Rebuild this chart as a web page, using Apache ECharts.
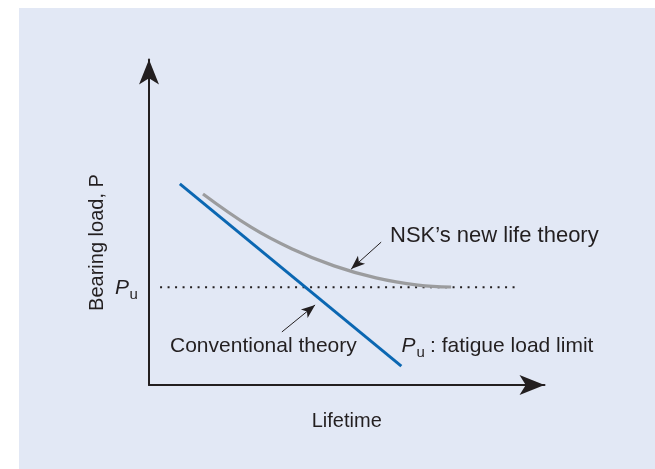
<!DOCTYPE html>
<html>
<head>
<meta charset="utf-8">
<title>Bearing load vs lifetime</title>
<script src="https://cdn.jsdelivr.net/npm/echarts@6/dist/echarts.min.js"></script>
<style>
  html, body { margin: 0; padding: 0; background: #ffffff; }
  #panel { position: absolute; left: 19px; top: 8px; right: 0; bottom: 0; background: #e2e8f5; }
  #chart { position: absolute; left: 0; top: 0; width: 655px; height: 469px; }
</style>
</head>
<body>
<div id="panel"></div>
<div id="chart"></div>
<script>
// Conventional theory: straight line in load-life space
const conventionalLine = [[7.8, 61.8], [63.8, 5.8]];
// NSK's new life theory: curve flattening toward the fatigue load limit
const nskCurve = [[13.65, 58.7], [25.8, 48.5], [36.2, 41.8], [46.8, 36.6], [57.4, 32.9], [68.0, 30.7], [76.4, 30.1]];
// Fatigue load limit Pu and the extent of its dotted guide
const fatigueLimit = 30;
const limitSpan = [2.8, 93.0];
// Pointer arrows: [from, to]
const nskPointer = [[58.7, 43.9], [51.1, 35.6]];
const conventionalPointer = [[33.6, 16.3], [42.0, 24.6]];
// Text
const xAxisTitle = 'Lifetime';
const yAxisTitle = 'Bearing load, P';
const nskText = 'NSK\u2019s new life theory';
const conventionalText = 'Conventional theory';
const limitText = ': fatigue load limit';

const FONT = "'Liberation Sans', Arial, Helvetica, sans-serif";
const INK = '#231f20';

const chart = echarts.init(document.getElementById('chart'), null, { renderer: 'canvas' });

function pointer(seg) {
  return {
    silent: true,
    symbol: ['none', 'arrow'],
    symbolSize: [8, 14],
    label: { show: false },
    lineStyle: { color: INK, width: 1, type: 'solid' },
    itemStyle: { color: INK },
    emphasis: { disabled: true },
    data: [[{ coord: seg[0] }, { coord: seg[1] }]]
  };
}

chart.setOption({
  backgroundColor: 'transparent',
  animation: false,
  grid: { left: 149, right: 110.5, top: 59.5, bottom: 84 },
  xAxis: {
    type: 'value', min: 0, max: 100,
    name: xAxisTitle, nameLocation: 'middle', nameGap: 26,
    nameTextStyle: { fontFamily: FONT, fontSize: 20, color: INK },
    axisLine: { show: true, symbol: ['none', 'arrow'], symbolSize: [15, 25], lineStyle: { color: INK, width: 2 } },
    axisTick: { show: false }, axisLabel: { show: false }, splitLine: { show: false }
  },
  yAxis: {
    type: 'value', min: 0, max: 100,
    axisLine: { show: true, symbol: ['none', 'arrow'], symbolSize: [15, 25], lineStyle: { color: INK, width: 2 } },
    axisTick: { show: false }, axisLabel: { show: false }, splitLine: { show: false }
  },
  series: [
    {
      name: 'Fatigue load limit', type: 'line', silent: true, symbol: 'none',
      data: [[limitSpan[0], fatigueLimit], [limitSpan[1], fatigueLimit]],
      lineStyle: { color: INK, width: 2, type: [2, 5.5] }, z: 1
    },
    {
      name: 'NSK\u2019s new life theory', type: 'line', silent: true, symbol: 'none',
      smooth: 0.4,
      data: nskCurve,
      lineStyle: { color: '#9b9c9e', width: 3.2, cap: 'butt' }, z: 2,
      markLine: pointer(nskPointer)
    },
    {
      name: 'Conventional theory', type: 'line', silent: true, symbol: 'none',
      data: conventionalLine,
      lineStyle: { color: '#0b67b2', width: 3 }, z: 3,
      markLine: pointer(conventionalPointer)
    }
  ],
  graphic: [
    { type: 'text', x: 97.5, y: 242.5, rotation: Math.PI / 2, silent: true,
      style: { text: yAxisTitle, font: '20px ' + FONT, fill: INK, align: 'center', verticalAlign: 'middle' } },
    { type: 'text', x: 115, y: 288.5, silent: true,
      style: { text: 'P', font: 'italic 21px ' + FONT, fill: INK, align: 'left', verticalAlign: 'middle' } },
    { type: 'text', x: 129.5, y: 295, silent: true,
      style: { text: 'u', font: '15px ' + FONT, fill: INK, align: 'left', verticalAlign: 'middle' } },
    { type: 'text', x: 390, y: 235.5, silent: true,
      style: { text: nskText, font: '22px ' + FONT, fill: INK, align: 'left', verticalAlign: 'middle' } },
    { type: 'text', x: 170, y: 346, silent: true,
      style: { text: conventionalText, font: '21px ' + FONT, fill: INK, align: 'left', verticalAlign: 'middle' } },
    { type: 'text', x: 401.5, y: 346, silent: true,
      style: { text: 'P', font: 'italic 21px ' + FONT, fill: INK, align: 'left', verticalAlign: 'middle' } },
    { type: 'text', x: 416.5, y: 352.5, silent: true,
      style: { text: 'u', font: '15px ' + FONT, fill: INK, align: 'left', verticalAlign: 'middle' } },
    { type: 'text', x: 430, y: 346, silent: true,
      style: { text: limitText, font: '21px ' + FONT, fill: INK, align: 'left', verticalAlign: 'middle' } }
  ]
});
</script>
</body>
</html>
